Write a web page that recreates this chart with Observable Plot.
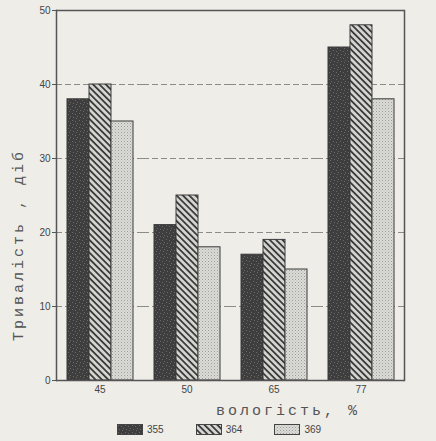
<!DOCTYPE html>
<html><head><meta charset="utf-8">
<script src="https://cdn.jsdelivr.net/npm/d3@7"></script>
<script src="https://cdn.jsdelivr.net/npm/@observablehq/plot@0.6"></script>
<style>
html,body{margin:0;padding:0;background:#eeede8;}
#wrap{position:relative;width:436px;height:441px;overflow:hidden;}
#legend{position:absolute;left:117px;top:424px;display:flex;align-items:center;font:10px "Liberation Sans",Arial,sans-serif;color:#444;}
#legend .item{display:flex;align-items:center;margin-right:32px;}
#legend svg{display:block;margin-right:4px;}
</style></head><body>
<div id="wrap"><div id="chart"></div><div id="legend"></div></div>
<script>
// data
const humidity = ["45", "50", "65", "77"];
const varieties = ["355", "364", "369"];
const v355 = [38, 21, 17, 45];
const v364 = [40, 25, 19, 48];
const v369 = [35, 18, 15, 38];
const yTicks = [0, 10, 20, 30, 40, 50];
const gridTicks = [10, 20, 30, 40];
const yTitle = "Тривалість , діб";
const xTitle = "вологість, %";

const series = {"355": v355, "364": v364, "369": v369};
const data = humidity.flatMap((h, i) => varieties.map(s => ({h, s, v: series[s][i]})));
const fills = ["url(#pDark)", "url(#pHatch)", "url(#pDot)"];

const plot = Plot.plot({
  width: 436, height: 420,
  marginTop: 10, marginLeft: 55, marginRight: 31, marginBottom: 40,
  style: {background: "transparent", fontFamily: "'Liberation Sans', Arial, sans-serif", fontSize: "10px", color: "#444"},
  fx: {domain: humidity, padding: 0, label: null, axis: null},
  x: {domain: varieties, paddingOuter: 0.42, paddingInner: 0, axis: null},
  y: {domain: [0, 50], axis: null},
  color: {domain: varieties, range: fills},
  marks: [
    Plot.ruleY(gridTicks, {stroke: "#8a8a86", strokeWidth: 1, strokeDasharray: "6,3"}),
    Plot.barY(data, {fx: "h", x: "s", y: "v", fill: "s", stroke: "#3a3a3a", strokeWidth: 1}),
    Plot.ruleY([0, 50], {stroke: "#555", strokeWidth: 1.5}),
    Plot.frame({anchor: "left", facetAnchor: "left", stroke: "#555", strokeWidth: 1.5}),
    Plot.frame({anchor: "right", facetAnchor: "right", stroke: "#555", strokeWidth: 1.5}),
    Plot.axisY({ticks: yTicks, tickSize: 4, tickPadding: 2, stroke: "#555", label: null, fill: "#444"}),
    Plot.axisFx({anchor: "bottom", tickSize: 0, tickPadding: 5, label: null, fill: "#444"})
  ]
});
document.getElementById("chart").appendChild(plot);

const svg = d3.select(plot);
const defs = svg.insert("defs", ":first-child");
// dark speckled
const pd = defs.append("pattern").attr("id", "pDark").attr("patternUnits", "userSpaceOnUse").attr("width", 7).attr("height", 7);
pd.append("rect").attr("width", 7).attr("height", 7).attr("fill", "#3e3e3e");
[[1,1],[4,2],[2,5],[6,4],[5,6]].forEach(([x, y]) => pd.append("rect").attr("x", x).attr("y", y).attr("width", 1).attr("height", 1).attr("fill", "#6a6a6a"));
// hatched
const ph = defs.append("pattern").attr("id", "pHatch").attr("patternUnits", "userSpaceOnUse").attr("width", 4.5).attr("height", 4.5).attr("patternTransform", "rotate(-45)");
ph.append("rect").attr("width", 4.5).attr("height", 4.5).attr("fill", "#d4d4d0");
ph.append("rect").attr("x", 0).attr("y", 0).attr("width", 1.8).attr("height", 4.5).attr("fill", "#3c3c3c");
// dotted
const pt = defs.append("pattern").attr("id", "pDot").attr("patternUnits", "userSpaceOnUse").attr("width", 3).attr("height", 3);
pt.append("rect").attr("width", 3).attr("height", 3).attr("fill", "#dcdcd8");
pt.append("rect").attr("x", 0).attr("y", 0).attr("width", 1).attr("height", 1).attr("fill", "#9a9a96");
pt.append("rect").attr("x", 1.5).attr("y", 1.5).attr("width", 1).attr("height", 1).attr("fill", "#b0b0ac");

// axis titles
svg.append("text").text(yTitle)
  .attr("transform", "translate(23,245) rotate(-90)")
  .attr("text-anchor", "middle")
  .attr("font-family", "'Liberation Mono', 'DejaVu Sans Mono', monospace")
  .attr("font-size", 15).attr("letter-spacing", 3).attr("fill", "#555");
svg.append("text").text(xTitle)
  .attr("x", 288).attr("y", 415)
  .attr("font-family", "'Liberation Mono', 'DejaVu Sans Mono', monospace")
  .attr("font-size", 15).attr("letter-spacing", 3).attr("fill", "#555");

// legend
const legend = d3.select("#legend");
varieties.forEach((s, i) => {
  const it = legend.append("div").attr("class", "item");
  const sw = it.append("svg").attr("width", 26).attr("height", 11);
  sw.append("rect").attr("x", 0.5).attr("y", 0.5).attr("width", 25).attr("height", 10).attr("fill", fills[i]).attr("stroke", "#444");
  it.append("span").text(s);
});
</script>
</body></html>
